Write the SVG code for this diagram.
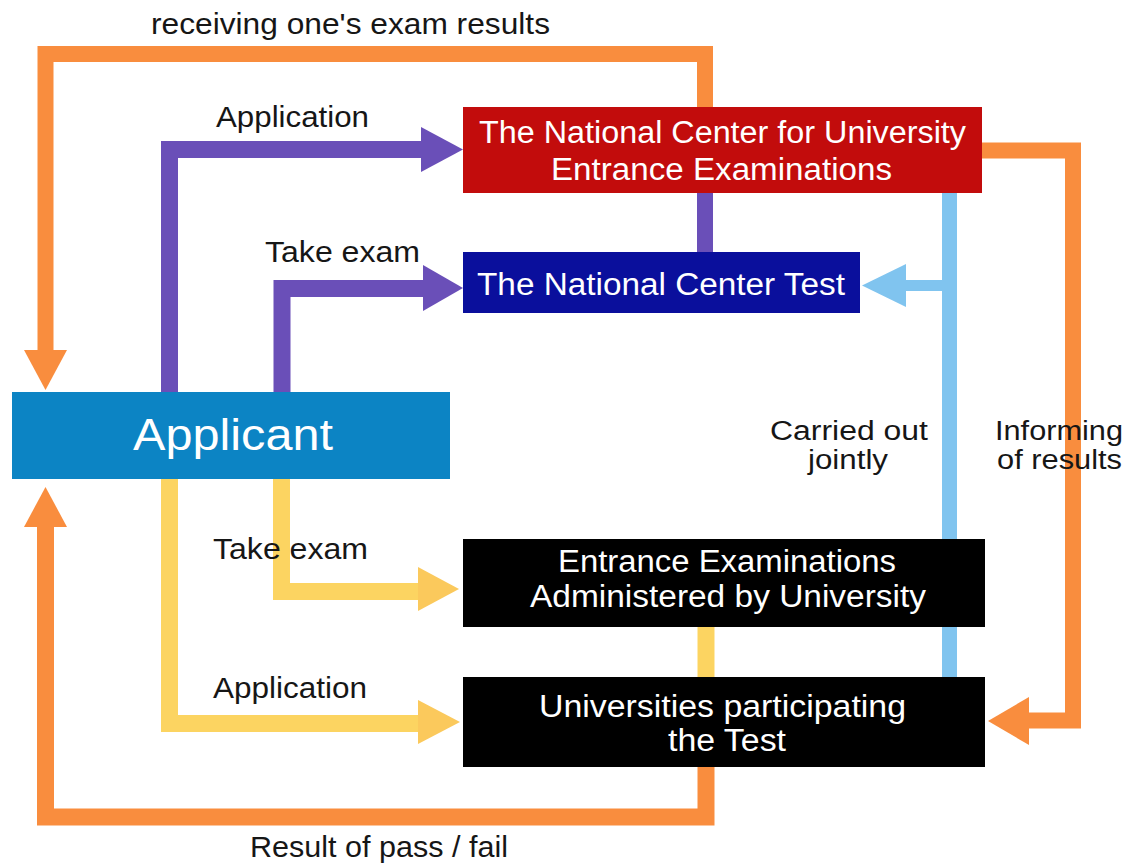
<svg xmlns="http://www.w3.org/2000/svg" width="1131" height="864" viewBox="0 0 1131 864">
<style>
.ln{fill:none;stroke-linejoin:miter;stroke-linecap:butt}
.or{stroke:#f98d3e}.orf{fill:#f98d3e}
.pu{stroke:#6a4fb8}.puf{fill:#6a4fb8}
.lb{stroke:#80c4ef}.lbf{fill:#80c4ef}
.ye{stroke:#fcd461}.yef{fill:#fbc95c}
.nt{font-family:"Liberation Sans",Arial,sans-serif;fill:#fff;font-size:31px;text-anchor:middle}
.lab{font-family:"Liberation Sans",Arial,sans-serif;fill:#161616;font-size:29px}
.lab2{font-size:27px}
</style>
<rect width="1131" height="864" fill="#fff"/>
<g id="connectors">
  <path class="ln or" stroke-width="16" d="M45.5,352 V54 H705 V107"/>
  <polygon class="orf" points="24,350 67,350 45.5,390"/>
  <path class="ln or" stroke-width="17" d="M45.5,525 V817 H706 V767"/>
  <polygon class="orf" points="24,527 67,527 45.5,487"/>
  <path class="ln or" stroke-width="16" d="M982,150.5 H1073 V720.5 H1027"/>
  <polygon class="orf" points="1029,697 1029,745 988,721"/>
  <path class="ln pu" stroke-width="17" d="M169.5,392 V149.5 H423"/>
  <polygon class="puf" points="421,127 421,172 463,149.5"/>
  <path class="ln pu" stroke-width="17" d="M282,392 V288.5 H423"/>
  <polygon class="puf" points="423,265 423,311 463,288"/>
  <path class="ln pu" stroke-width="16" d="M705,193 V252"/>
  <path class="ln lb" stroke-width="15" d="M949.5,193 V677"/>
  <path class="ln lb" stroke-width="11" d="M942,285.5 H904"/>
  <polygon class="lbf" points="906,264 906,307 862,285.5"/>
  <path class="ln ye" stroke-width="17" d="M281.5,479 V591.5 H420"/>
  <polygon class="yef" points="418,567 418,611 459,589"/>
  <path class="ln ye" stroke-width="17" d="M169.5,479 V723.5 H420"/>
  <polygon class="yef" points="418,700 418,744 460,722"/>
  <path class="ln ye" stroke-width="17" d="M706,627 V677"/>
</g>
<g id="node-ncue">
  <rect x="463" y="107" width="519" height="86" fill="#c20c0c"/>
  <text class="nt" x="722.5" y="143" textLength="487" lengthAdjust="spacingAndGlyphs">The National Center for University</text>
  <text class="nt" x="721.5" y="180" textLength="341" lengthAdjust="spacingAndGlyphs">Entrance Examinations</text>
</g>
<g id="node-nct">
  <rect x="463" y="252" width="397" height="61" fill="#0a0f9c"/>
  <text class="nt" x="661" y="295" textLength="368" lengthAdjust="spacingAndGlyphs">The National Center Test</text>
</g>
<g id="node-applicant">
  <rect x="12" y="392" width="438" height="87" fill="#0c84c4"/>
  <text class="nt" x="233" y="450" style="font-size:44px" textLength="200" lengthAdjust="spacingAndGlyphs">Applicant</text>
</g>
<g id="node-ee">
  <rect x="463" y="539" width="522" height="88" fill="#000"/>
  <text class="nt" x="727" y="572" textLength="338" lengthAdjust="spacingAndGlyphs">Entrance Examinations</text>
  <text class="nt" x="728" y="607" textLength="396" lengthAdjust="spacingAndGlyphs">Administered by University</text>
</g>
<g id="node-univ">
  <rect x="463" y="677" width="522" height="90" fill="#000"/>
  <text class="nt" x="722.5" y="717" textLength="367" lengthAdjust="spacingAndGlyphs">Universities participating</text>
  <text class="nt" x="727" y="751" textLength="118" lengthAdjust="spacingAndGlyphs">the Test</text>
</g>
<g id="labels">
  <text class="lab" x="151" y="34" textLength="399" lengthAdjust="spacingAndGlyphs">receiving one's exam results</text>
  <text class="lab" x="216" y="127" textLength="153" lengthAdjust="spacingAndGlyphs">Application</text>
  <text class="lab" x="265" y="262" textLength="155" lengthAdjust="spacingAndGlyphs">Take exam</text>
  <text class="lab" x="213" y="559" textLength="155" lengthAdjust="spacingAndGlyphs">Take exam</text>
  <text class="lab" x="213" y="698" textLength="154" lengthAdjust="spacingAndGlyphs">Application</text>
  <text class="lab" x="250" y="857" textLength="258" lengthAdjust="spacingAndGlyphs">Result of pass / fail</text>
  <text class="lab lab2" x="770" y="440" textLength="158" lengthAdjust="spacingAndGlyphs">Carried out</text>
  <text class="lab lab2" x="808" y="469" textLength="80" lengthAdjust="spacingAndGlyphs">jointly</text>
  <text class="lab lab2" x="995" y="440" textLength="128" lengthAdjust="spacingAndGlyphs">Informing</text>
  <text class="lab lab2" x="997" y="469" textLength="125" lengthAdjust="spacingAndGlyphs">of results</text>
</g>
</svg>
